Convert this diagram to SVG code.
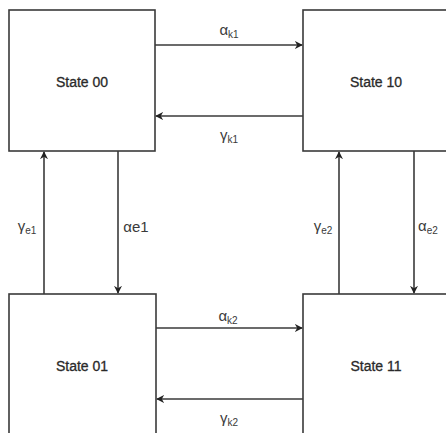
<svg xmlns="http://www.w3.org/2000/svg" width="446" height="433" viewBox="0 0 446 433">
<defs>
<marker id="ah" viewBox="0 0 10 10" refX="9" refY="5" markerWidth="8" markerHeight="8" markerUnits="userSpaceOnUse" orient="auto">
<path d="M0,0 L10,5 L0,10 L3,5 Z" fill="#222"/>
</marker>
</defs>
<style>
.box{fill:#fff;stroke:#3a3a3a;stroke-width:1.6}
.nt{font-family:"Liberation Sans",Arial,sans-serif;font-size:14px;fill:#2a2a2a;text-anchor:middle;stroke:#2a2a2a;stroke-width:0.3}
.lb{font-family:"Liberation Sans",Arial,sans-serif;font-size:15px;fill:#3a3a3a;text-anchor:middle}
.sub{font-size:10px}
.ln{stroke:#3a3a3a;stroke-width:1.6;fill:none;marker-end:url(#ah)}
</style>
<rect width="446" height="433" fill="#fff"/>
<g id="state00"><rect class="box" x="9" y="10" width="146" height="141"/><text class="nt" x="82" y="87">State 00</text></g>
<g id="state10"><rect class="box" x="303" y="10" width="146" height="141"/><text class="nt" x="376" y="87">State 10</text></g>
<g id="state01"><rect class="box" x="9" y="294" width="147" height="145"/><text class="nt" x="82" y="371">State 01</text></g>
<g id="state11"><rect class="box" x="303" y="294" width="146" height="145"/><text class="nt" x="376" y="371">State 11</text></g>
<g id="connectors">
<line class="ln" x1="155" y1="45" x2="302" y2="45"/>
<line class="ln" x1="303" y1="116" x2="156" y2="116"/>
<line class="ln" x1="44" y1="294" x2="44" y2="152"/>
<line class="ln" x1="118" y1="151" x2="118" y2="293"/>
<line class="ln" x1="339" y1="294" x2="339" y2="152"/>
<line class="ln" x1="414" y1="151" x2="414" y2="293"/>
<line class="ln" x1="156" y1="328" x2="302" y2="328"/>
<line class="ln" x1="303" y1="399" x2="157" y2="399"/>
<text class="lb" x="229" y="35">α<tspan class="sub" dy="3">k1</tspan></text>
<text class="lb" x="229" y="140">γ<tspan class="sub" dy="3">k1</tspan></text>
<text class="lb" x="27" y="231">γ<tspan class="sub" dy="3">e1</tspan></text>
<text class="lb" x="136" y="232">αe1</text>
<text class="lb" x="323" y="231">γ<tspan class="sub" dy="3">e2</tspan></text>
<text class="lb" x="418" y="231" style="text-anchor:start">α<tspan class="sub" dy="3">e2</tspan></text>
<text class="lb" x="228" y="321">α<tspan class="sub" dy="3">k2</tspan></text>
<text class="lb" x="229" y="423">γ<tspan class="sub" dy="3">k2</tspan></text>
</g>
</svg>
